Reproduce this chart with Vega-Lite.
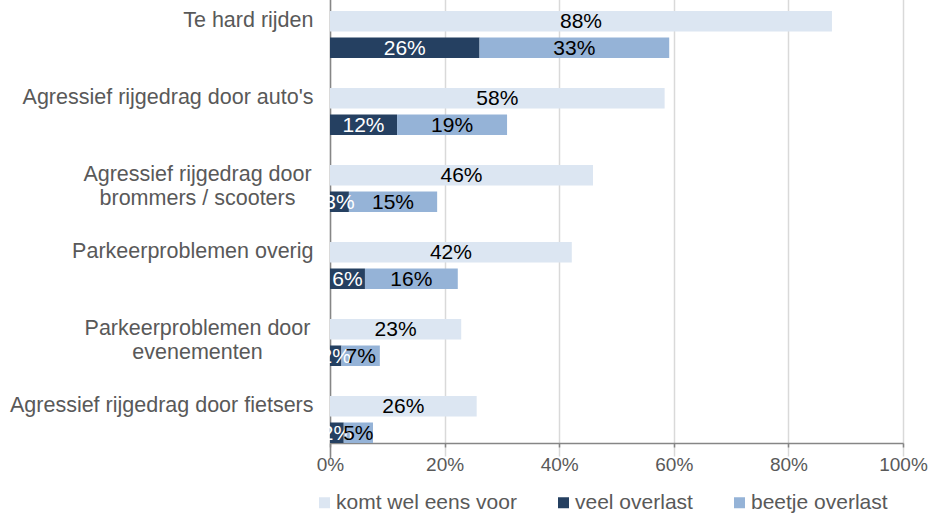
{
  "$schema": "https://vega.github.io/schema/vega-lite/v6.json",
  "width": 573,
  "height": 434,
  "autosize": {"type": "none"},
  "padding": {"left": 330, "top": 9, "right": 29, "bottom": 72},
  "background": "white",
  "config": {
    "font": "Liberation Sans",
    "view": {"stroke": null}
  },
  "data": {
    "values": [
      {"cat": "Te hard rijden", "row": "a", "series": "komt wel eens voor", "value": 0.876},
      {"cat": "Te hard rijden", "row": "b", "series": "veel overlast", "value": 0.261},
      {"cat": "Te hard rijden", "row": "b", "series": "beetje overlast", "value": 0.331},
      {"cat": "Agressief rijgedrag door auto's", "row": "a", "series": "komt wel eens voor", "value": 0.584},
      {"cat": "Agressief rijgedrag door auto's", "row": "b", "series": "veel overlast", "value": 0.117},
      {"cat": "Agressief rijgedrag door auto's", "row": "b", "series": "beetje overlast", "value": 0.192},
      {"cat": "Agressief rijgedrag door|brommers / scooters", "row": "a", "series": "komt wel eens voor", "value": 0.459},
      {"cat": "Agressief rijgedrag door|brommers / scooters", "row": "b", "series": "veel overlast", "value": 0.033},
      {"cat": "Agressief rijgedrag door|brommers / scooters", "row": "b", "series": "beetje overlast", "value": 0.154},
      {"cat": "Parkeerproblemen overig", "row": "a", "series": "komt wel eens voor", "value": 0.422},
      {"cat": "Parkeerproblemen overig", "row": "b", "series": "veel overlast", "value": 0.061},
      {"cat": "Parkeerproblemen overig", "row": "b", "series": "beetje overlast", "value": 0.162},
      {"cat": "Parkeerproblemen door|evenementen", "row": "a", "series": "komt wel eens voor", "value": 0.229},
      {"cat": "Parkeerproblemen door|evenementen", "row": "b", "series": "veel overlast", "value": 0.020},
      {"cat": "Parkeerproblemen door|evenementen", "row": "b", "series": "beetje overlast", "value": 0.067},
      {"cat": "Agressief rijgedrag door fietsers", "row": "a", "series": "komt wel eens voor", "value": 0.256},
      {"cat": "Agressief rijgedrag door fietsers", "row": "b", "series": "veel overlast", "value": 0.024},
      {"cat": "Agressief rijgedrag door fietsers", "row": "b", "series": "beetje overlast", "value": 0.051}
    ]
  },
  "encoding": {
    "y": {
      "field": "cat",
      "type": "nominal",
      "sort": ["Te hard rijden", "Agressief rijgedrag door auto's", "Agressief rijgedrag door|brommers / scooters", "Parkeerproblemen overig", "Parkeerproblemen door|evenementen", "Agressief rijgedrag door fietsers"],
      "scale": {"range": [-13, 449], "paddingInner": 0, "paddingOuter": 0},
      "axis": {
        "title": null,
        "ticks": false,
        "labelExpr": "split(datum.label, '|')",
        "labelFontSize": 21.5,
        "labelColor": "#595959",
        "labelAlign": {"condition": {"test": "indexof(datum.value, '|') >= 0", "value": "center"}, "value": "right"},
        "labelPadding": {"condition": {"test": "indexof(datum.value, '|') >= 0", "value": 133}, "value": 17},
        "labelOffset": -13.5,
        "labelLineHeight": 24,
        "labelLimit": 0,
        "domainColor": "#868686",
        "domainWidth": 1.5,
        "grid": false
      }
    },
    "yOffset": {
      "field": "row",
      "type": "nominal",
      "scale": {"range": [15, 62], "paddingInner": 0.226, "paddingOuter": 0}
    }
  },
  "layer": [
    {
      "mark": {"type": "bar"},
      "encoding": {
        "x": {
          "field": "value",
          "type": "quantitative",
          "stack": "zero",
          "scale": {"domain": [0, 1], "nice": false},
          "axis": {
            "title": null,
            "format": ".0%",
            "values": [0, 0.2, 0.4, 0.6, 0.8, 1],
            "grid": true,
            "gridColor": "#D9D9D9",
            "gridWidth": 1.5,
            "domainColor": "#868686",
            "domainWidth": 1.5,
            "tickColor": "#868686",
            "tickSize": 4,
            "tickWidth": 1.5,
            "labelFontSize": 19,
            "labelColor": "#595959",
            "labelPadding": 8,
            "labelFlush": false
          }
        },
        "order": {"field": "series", "sort": "descending"},
        "color": {
          "field": "series",
          "type": "nominal",
          "scale": {
            "domain": ["komt wel eens voor", "veel overlast", "beetje overlast"],
            "range": ["#DCE6F2", "#254061", "#95B3D7"]
          },
          "legend": {
            "title": null,
            "orient": "none",
            "direction": "horizontal",
            "legendX": -16,
            "legendY": 483,
            "symbolType": "square",
            "symbolSize": 121,
            "symbolStrokeWidth": 0,
            "labelFontSize": 21,
            "labelColor": "#595959",
            "labelOffset": 1,
            "labelLimit": 0,
            "columnPadding": 36
          }
        }
      }
    },
    {
      "mark": {"type": "text", "fontSize": 21, "align": "center", "baseline": "middle", "dy": 1},
      "encoding": {
        "x": {"field": "value", "type": "quantitative", "stack": "zero", "bandPosition": 0.5},
        "order": {"field": "series", "sort": "descending"},
        "detail": {"field": "series"},
        "text": {"field": "value", "type": "quantitative", "format": ".0%"},
        "color": {
          "condition": {"test": "datum.series === 'veel overlast'", "value": "white"},
          "value": "black"
        }
      }
    }
  ]
}
